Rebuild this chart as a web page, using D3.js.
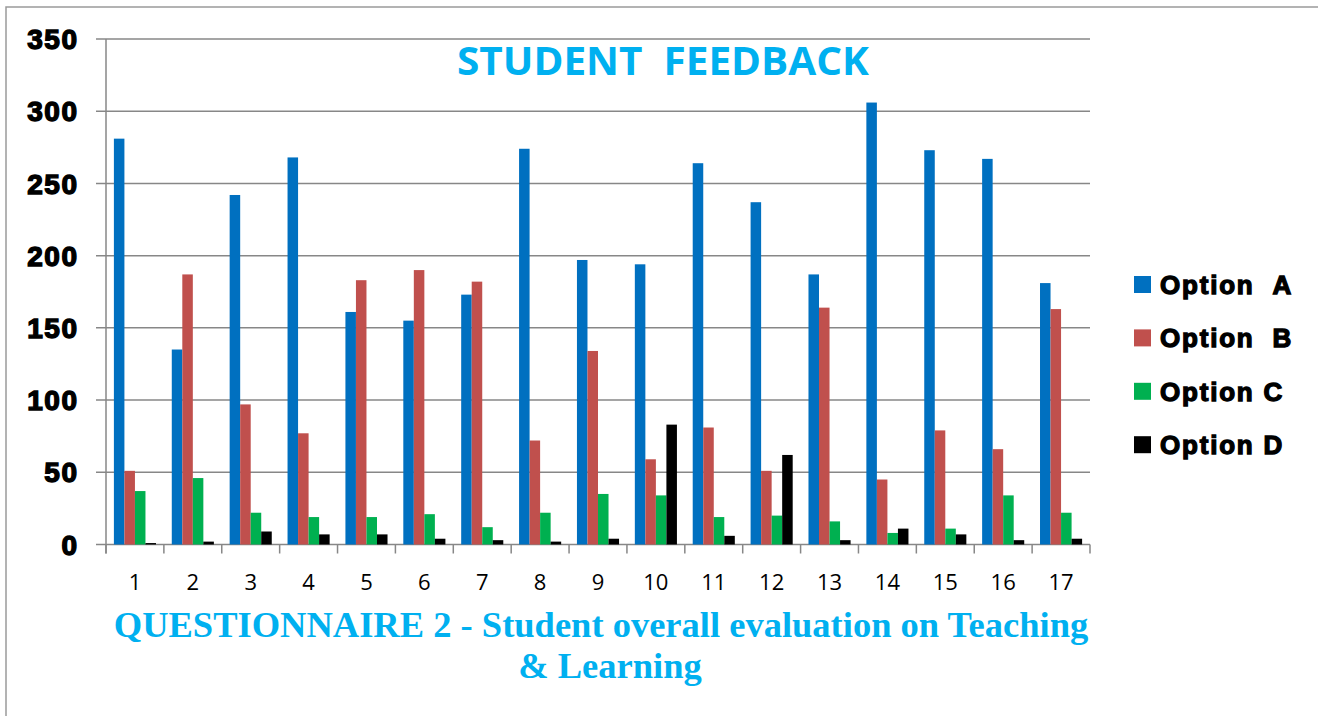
<!DOCTYPE html>
<html>
<head>
<meta charset="utf-8">
<script src="https://cdn.jsdelivr.net/npm/d3@7"></script>
<style>
  body { margin: 0; background: #fff; }
  svg { display: block; }
</style>
</head>
<body>
<svg class="chart"></svg>
<script>
let questions = ["1","2","3","4","5","6","7","8","9","10","11","12","13","14","15","16","17"];
let seriesNames = ["Option\u00A0\u00A0A", "Option\u00A0\u00A0B", "Option C", "Option D"];
let optionA = [281, 135, 242, 268, 161, 155, 173, 274, 197, 194, 264, 237, 187, 306, 273, 267, 181];
let optionB = [51, 187, 97, 77, 183, 190, 182, 72, 134, 59, 81, 51, 164, 45, 79, 66, 163];
let optionC = [37, 46, 22, 19, 19, 21, 12, 22, 35, 34, 19, 20, 16, 8, 11, 34, 22];
let optionD = [1, 2, 9, 7, 7, 4, 3, 2, 4, 83, 6, 62, 3, 11, 7, 3, 4];
let yTicks = [0, 50, 100, 150, 200, 250, 300, 350];

let colors = ["#0070C0", "#C0504D", "#00B050", "#000000"];
let allSeries = [optionA, optionB, optionC, optionD];

let svgWidth = 1318, svgHeight = 716;
let plotLeft = 106, plotRight = 1090, plotTop = 39, plotBottom = 544.5;

let svg = d3.select('.chart')
    .attr("width", svgWidth)
    .attr("height", svgHeight);

// outer frame
svg.append("path")
    .attr("d", "M6,716 L6,7 L1318,7")
    .attr("fill", "none")
    .attr("stroke", "#9a9a9a")
    .attr("stroke-width", 1.5);

let x = d3.scaleBand()
    .domain(questions)
    .range([plotLeft, plotRight]);

let xInner = d3.scaleBand()
    .domain(seriesNames)
    .range([0, x.bandwidth()])
    .paddingOuter(0.75);

let y = d3.scaleLinear()
    .domain([0, 350])
    .range([plotBottom, plotTop]);

// gridlines
svg.append("g")
    .selectAll("line")
    .data(yTicks)
    .enter()
    .append("line")
    .attr("x1", plotLeft - 10)
    .attr("x2", plotRight)
    .attr("y1", d => y(d))
    .attr("y2", d => y(d))
    .attr("stroke", "#878787")
    .attr("stroke-width", 1.5);

// y axis line
svg.append("line")
    .attr("x1", plotLeft).attr("x2", plotLeft)
    .attr("y1", plotTop).attr("y2", plotBottom + 9)
    .attr("stroke", "#878787")
    .attr("stroke-width", 1.5);

// x ticks
svg.append("g")
    .selectAll("line")
    .data(questions.concat(["end"]))
    .enter()
    .append("line")
    .attr("x1", (d, i) => plotLeft + i * x.step())
    .attr("x2", (d, i) => plotLeft + i * x.step())
    .attr("y1", plotBottom)
    .attr("y2", plotBottom + 9)
    .attr("stroke", "#878787")
    .attr("stroke-width", 1.5);

// y labels
svg.append("g")
    .selectAll("text")
    .data(yTicks)
    .enter()
    .append("text")
    .attr("x", 78.5)
    .attr("y", d => y(d))
    .attr("dy", "0.36em")
    .attr("text-anchor", "end")
    .style("font-family", "'Liberation Sans', Arial, sans-serif")
    .style("font-weight", "bold")
    .style("font-size", "28px")
    .style("letter-spacing", "1.5px")
    .style("stroke", "#000")
    .style("stroke-width", "1.4px")
    .text(d => d);

// bars
let groups = svg.append("g")
    .selectAll("g")
    .data(allSeries)
    .enter()
    .append("g")
    .attr("fill", (d, i) => colors[i]);

groups.each(function (values, si) {
    d3.select(this).selectAll("rect")
        .data(values)
        .enter()
        .append("rect")
        .attr("x", (d, i) => x(questions[i]) + xInner(seriesNames[si]))
        .attr("width", xInner.bandwidth())
        .attr("y", d => y(d))
        .attr("height", d => plotBottom - y(d));
});

// x labels
svg.append("g")
    .selectAll("text")
    .data(questions)
    .enter()
    .append("text")
    .attr("x", d => x(d) + x.bandwidth() / 2)
    .attr("y", 590)
    .attr("text-anchor", "middle")
    .style("font-family", "'Open Sans', sans-serif")
    .style("font-size", "22px")
    .style("fill", "#000")
    .text(d => d);

// title
svg.append("text")
    .attr("x", 663)
    .attr("y", 75)
    .attr("text-anchor", "middle")
    .attr("textLength", 412)
    .attr("lengthAdjust", "spacingAndGlyphs")
    .style("font-family", "'Open Sans', sans-serif")
    .style("font-weight", "bold")
    .style("font-size", "39px")
    .style("fill", "#00B0F0")
    .text("STUDENT\u00A0\u00A0FEEDBACK");

// x axis title
let xTitle = svg.append("text")
    .attr("text-anchor", "middle")
    .style("font-family", "'Liberation Serif', 'Times New Roman', serif")
    .style("font-weight", "bold")
    .style("font-size", "36.5px")
    .style("fill", "#00B0F0");
xTitle.append("tspan")
    .attr("x", 601)
    .attr("y", 637)
    .text("QUESTIONNAIRE 2 - Student overall evaluation on Teaching");
xTitle.append("tspan")
    .attr("x", 610)
    .attr("y", 678)
    .text("& Learning");

// legend
let legend = svg.append("g")
    .selectAll("g")
    .data(seriesNames)
    .enter()
    .append("g")
    .attr("transform", (d, i) => "translate(1134," + (284.5 + i * 53.4) + ")");

legend.append("rect")
    .attr("x", 0)
    .attr("y", -8.5)
    .attr("width", 17)
    .attr("height", 17)
    .attr("fill", (d, i) => colors[i]);

legend.append("text")
    .attr("x", 26)
    .attr("y", 0)
    .attr("dy", "0.36em")
    .style("font-family", "'Liberation Sans', Arial, sans-serif")
    .style("font-weight", "bold")
    .style("font-size", "26px")
    .style("letter-spacing", "1.8px")
    .style("stroke", "#000")
    .style("stroke-width", "1.3px")
    .text(d => d);
</script>
</body>
</html>
